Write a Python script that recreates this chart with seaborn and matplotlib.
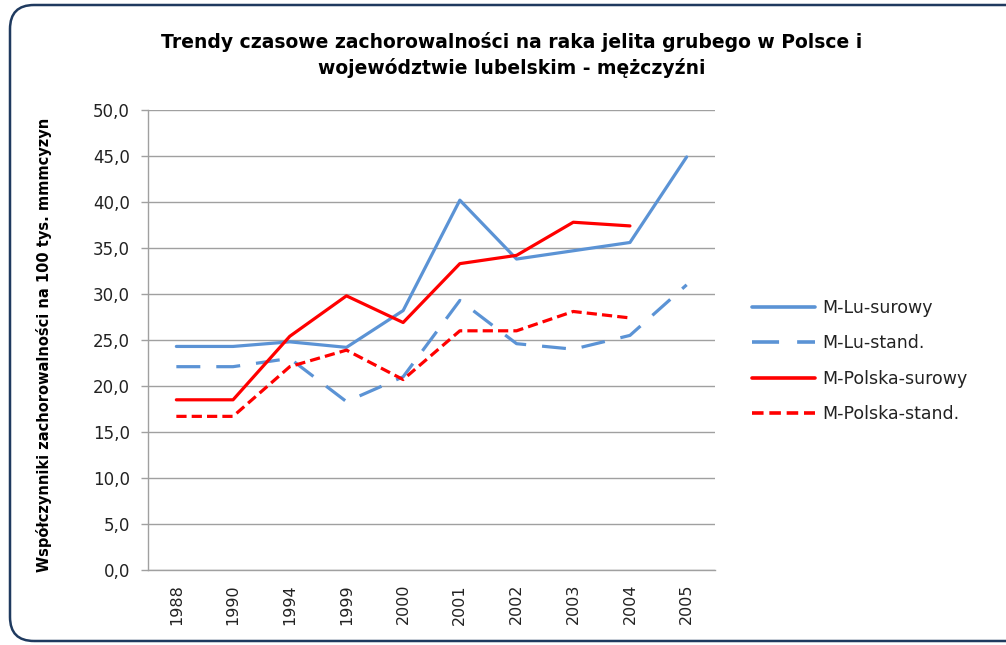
import numpy as np
import pandas as pd
import matplotlib
matplotlib.use("Agg")
import matplotlib.pyplot as plt
import seaborn as sns
from matplotlib.patches import FancyBboxPatch
from matplotlib.transforms import IdentityTransform

years = ["1988", "1990", "1994", "1999", "2000", "2001", "2002", "2003", "2004", "2005"]
lu_surowy = [24.3, 24.3, 24.8, 24.2, 28.2, 40.2, 33.8, 34.7, 35.6, 44.9]
lu_stand = [22.1, 22.1, 23.0, 18.3, 21.0, 29.3, 24.6, 24.0, 25.5, 31.0]
pl_surowy = [18.5, 18.5, 25.4, 29.8, 26.9, 33.3, 34.2, 37.8, 37.4, np.nan]
pl_stand = [16.7, 16.7, 22.1, 23.9, 20.7, 26.0, 26.0, 28.1, 27.4, np.nan]
series_names = ["M-Lu-surowy", "M-Lu-stand.", "M-Polska-surowy", "M-Polska-stand."]
title = "Trendy czasowe zachorowalności na raka jelita grubego w Polsce i\nwojewództwie lubelskim - mężczyźni"
ylabel = "Współczynniki zachorowalności na 100 tys. mmmcyzyn"
yticks = [0, 5, 10, 15, 20, 25, 30, 35, 40, 45, 50]

sns.set_theme(style="white")
plt.rcParams["font.family"] = ["DejaVu Sans"]

rows = []
for name, vals in zip(series_names, [lu_surowy, lu_stand, pl_surowy, pl_stand]):
    for i, v in enumerate(vals):
        rows.append({"pos": i, "value": v, "series": name})
df = pd.DataFrame(rows).dropna()

blue = "#5B93D5"
red = "#FF0000"
palette = {series_names[0]: blue, series_names[1]: blue,
           series_names[2]: red, series_names[3]: red}
dashes = {series_names[0]: "", series_names[1]: (7.5, 5),
          series_names[2]: "", series_names[3]: (3.2, 1.6)}

fig = plt.figure(figsize=(10.06, 6.45), dpi=100)
fig.patch.set_facecolor("white")
ax = fig.add_axes([148 / 1006, 1 - 570 / 645, 567 / 1006, 460 / 645])

sns.lineplot(data=df, x="pos", y="value", hue="series", style="series",
             palette=palette, dashes=dashes, hue_order=series_names,
             style_order=series_names, linewidth=2.3, ax=ax, sort=False,
             estimator=None)

ax.set_xlim(-0.5, len(years) - 0.5)
ax.set_ylim(0, 50)
ax.set_xticks(range(len(years)))
ax.set_xticklabels(years, rotation=90, fontsize=11.5, color="#222222")
ax.set_yticks(yticks)
ax.set_yticklabels([f"{v:.1f}".replace(".", ",") for v in yticks], fontsize=12, color="#222222")
ax.yaxis.grid(True, color="#A0A0A0", linewidth=1.0)
ax.xaxis.grid(False)
for s in ["top", "right"]:
    ax.spines[s].set_visible(False)
for s in ["left", "bottom"]:
    ax.spines[s].set_color("#A0A0A0")
    ax.spines[s].set_linewidth(1.0)
ax.tick_params(axis="y", which="major", left=True, length=5, width=1,
               color="#A0A0A0", pad=8)
ax.tick_params(axis="x", which="major", bottom=False, pad=4)
ax.set_xlabel("")
ax.set_ylabel(ylabel, fontsize=10.5, fontweight="semibold", color="black")
ax.yaxis.set_label_coords(-0.17, 0.49)

leg = ax.legend(loc="upper left", bbox_to_anchor=(752 / 1006, 1 - 299 / 645),
                bbox_transform=fig.transFigure, frameon=False, fontsize=12.5,
                handlelength=3.6, handletextpad=0.45, labelspacing=1.0,
                borderpad=0, borderaxespad=0)
for t in leg.get_texts():
    t.set_color("#222222")
for h in leg.get_lines():
    h.set_linewidth(2.6)

fig.text(512 / 1006, 1 - 55 / 645, title, ha="center", va="center",
         fontsize=13.5, fontweight="bold", color="black", linespacing=1.35)

frame = FancyBboxPatch((10, 4), 1030, 636,
                       boxstyle="round,pad=0,rounding_size=24",
                       transform=IdentityTransform(), facecolor="none",
                       edgecolor="#1F3A5F", linewidth=1.8)
fig.add_artist(frame)

fig.savefig("out.png", dpi=100, facecolor="white")
